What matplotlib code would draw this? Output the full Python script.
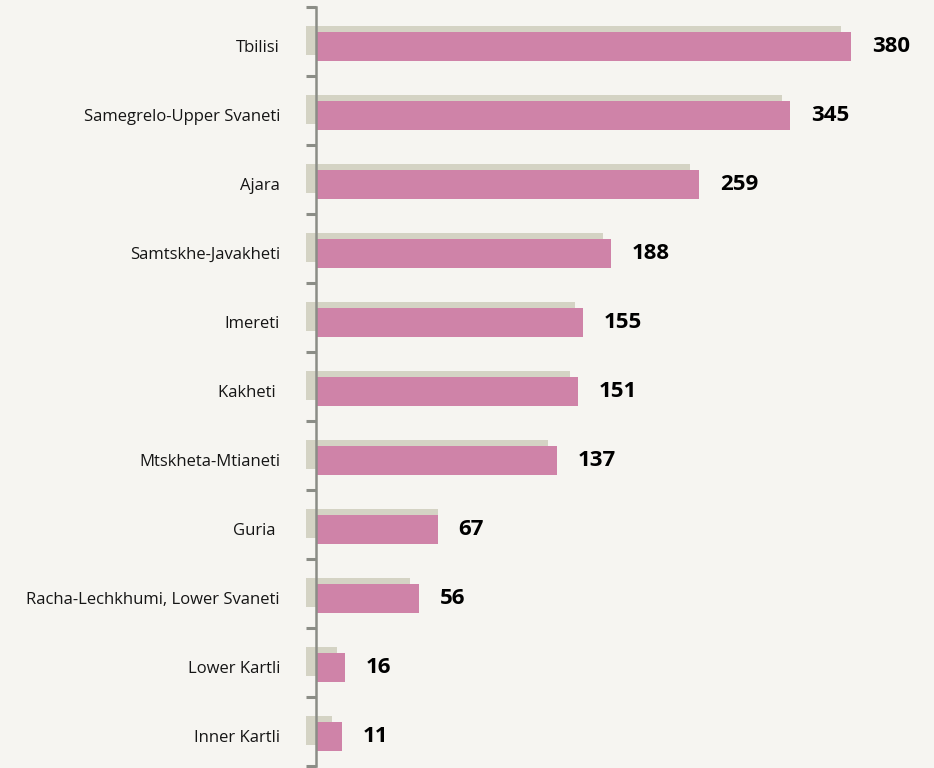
import matplotlib
matplotlib.use("Agg")
import matplotlib.pyplot as plt
import numpy as np

# ---- data (top to bottom) ----
regions = ["Tbilisi", "Samegrelo-Upper Svaneti", "Ajara", "Samtskhe-Javakheti",
           "Imereti", "Kakheti ", "Mtskheta-Mtianeti", "Guria ",
           "Racha-Lechkhumi, Lower Svaneti", "Lower Kartli", "Inner Kartli"]
values = [380, 345, 259, 188, 155, 151, 137, 67, 56, 16, 11]
# bar lengths as drawn in the picture (same units as the Tbilisi bar = 380)
bar_lengths = [380, 336.7, 272.0, 209.5, 189.6, 185.9, 171.0, 86.4, 72.9, 20.4, 18.3]
# grey backdrop bars as drawn in the picture
shadow_lengths = [380, 338.0, 272.7, 211.0, 191.0, 187.5, 172.0, 93.5, 73.9, 21.8, 18.3]

# ---- style ----
BG = "#F6F5F1"
PINK = "#CF83A8"
GREY = "#D4D3C4"
AXIS = "#8B8D86"
W, H, DPI = 934, 768, 100

fig = plt.figure(figsize=(W / DPI, H / DPI), dpi=DPI, facecolor=BG)
left_px, top_px, bottom_px = 316, 7, 766
ax = fig.add_axes([left_px / W, 1 - bottom_px / H, 1 - left_px / W, (bottom_px - top_px) / H])
ax.set_facecolor(BG)

n = len(regions)
y = np.arange(n)
px_per_unit = 535 / 380.0
shadow_shift = 10 / px_per_unit       # grey bar starts left of the axis
pink_drop = 0.068                      # pink bar sits a bit lower than the grey one
bar_h = 29 / 69.0

ax.barh(y - 0.01, shadow_lengths, left=-shadow_shift, height=bar_h, color=GREY, zorder=1, clip_on=False)
ax.barh(y + pink_drop, bar_lengths, height=bar_h, color=PINK, zorder=2)

for yi, L, v in zip(y, bar_lengths, values):
    ax.annotate(f"{v}", (L, yi + pink_drop), xytext=(15, 0), textcoords="offset points",
                ha="left", va="center", fontsize=16, fontweight="bold",
                family="Open Sans", color="black")

ax.set_xlim(0, (W - left_px) / px_per_unit)
ax.set_ylim(n - 0.5, -0.5)

for s in ["top", "right", "bottom"]:
    ax.spines[s].set_visible(False)
ax.spines["left"].set_color(AXIS)
ax.spines["left"].set_linewidth(1.8)
ax.spines["left"].set_zorder(3)

ax.set_xticks([])
ax.set_yticks(y + pink_drop)
ax.set_yticklabels(regions, family="Open Sans", fontsize=12, color="#151515")
ax.tick_params(axis="y", which="major", length=0, pad=26)
ax.set_yticks(np.arange(n + 1) - 0.5, minor=True)
ax.tick_params(axis="y", which="minor", length=7, width=2.2, color=AXIS, direction="out")

fig.savefig("out.png", dpi=DPI, facecolor=BG)
